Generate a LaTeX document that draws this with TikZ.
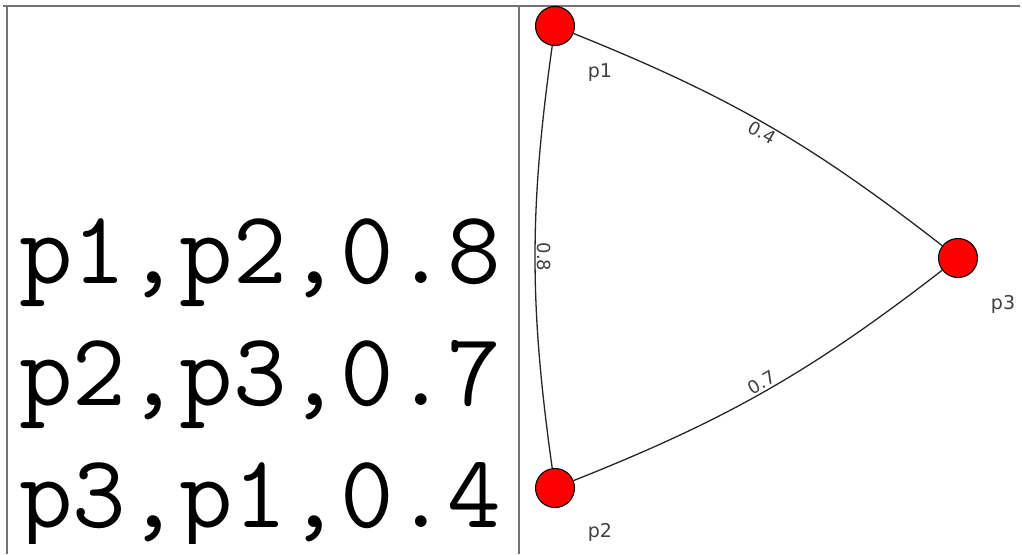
\documentclass[tikz,border=0pt]{standalone}
\usepackage{fontspec}
\usepackage{tikz}
\usetikzlibrary{positioning}
\newfontfamily\graphfont{DejaVu Sans}
\definecolor{framegray}{rgb}{0.45,0.45,0.45}
\definecolor{labelgray}{rgb}{0.25,0.25,0.25}
\definecolor{vertexred}{rgb}{1.00,0.00,0.00}

\begin{document}
\begin{tikzpicture}[
  x=1pt,y=-1pt,
  frame/.style={draw=framegray,line width=1.4pt},
  vertex/.style={circle,draw=black,fill=vertexred,line width=1.1pt,
                 minimum size=39pt,inner sep=0pt},
  vlabel/.style={font=\graphfont\fontsize{19}{19}\selectfont,text=labelgray},
  edge/.style={draw=black!85,line width=1.3pt},
  wlabel/.style={font=\graphfont\fontsize{18}{18}\selectfont,text=labelgray,
                 inner sep=2pt},
  csvline/.style={font=\ttfamily\fontsize{104}{104}\selectfont,anchor=base west,
                  inner sep=0pt}
]
\useasboundingbox (0,0) rectangle (1022,554);

% frame of the two panels
\draw[frame] (3,6) -- (1020,6);
\draw[frame] (7,6) -- (7,554);
\draw[frame] (519,6) -- (519,554);

% edge list
\begin{scope}
  \clip (8,7) rectangle (518,543);
  \node[csvline] (row1) at (19,283) {p1,p2,0.8};
  \node[csvline] (row2) at (19,405) {p2,p3,0.7};
  \node[csvline] (row3) at (19,527) {p3,p1,0.4};
\end{scope}

% graph
\node[vertex] (p1) at (555,26)  {};
\node[vertex] (p2) at (555,488) {};
\node[vertex] (p3) at (958,258) {};

\node[vlabel] (lp1) at (600,73)  {p1};
\node[vlabel] (lp2) at (600,532) {p2};
\node[vlabel] (lp3) at (1003,304) {p3};

\draw[edge] (p1) to[bend right=8]
  node[wlabel,midway,rotate=-90,anchor=south] (w12) {0.8} (p2);
\draw[edge] (p2) to[bend right=8]
  node[wlabel,midway,sloped,above] (w23) {0.7} (p3);
\draw[edge] (p1) to[bend left=8]
  node[wlabel,midway,sloped,below] (w13) {0.4} (p3);

\end{tikzpicture}
\end{document}
